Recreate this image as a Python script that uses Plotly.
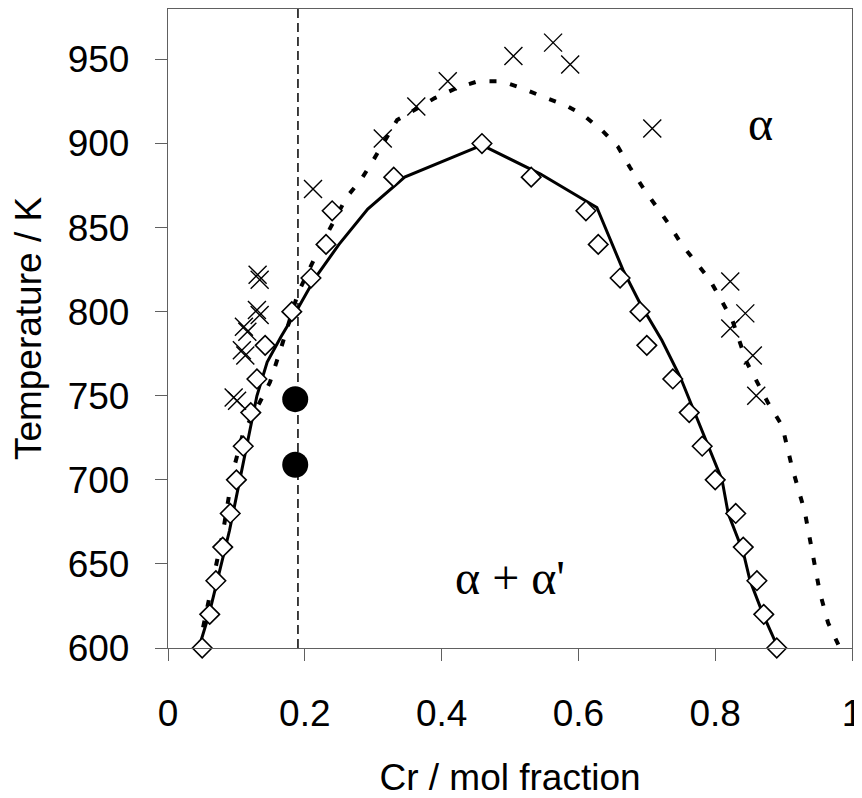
import plotly.graph_objects as go

# Measured boundary (open diamonds)
meas_x = [0.050, 0.061, 0.070, 0.080, 0.091, 0.100, 0.110, 0.121, 0.130, 0.142,
          0.181, 0.209, 0.231, 0.240, 0.330, 0.459, 0.531, 0.611, 0.629, 0.661,
          0.690, 0.700, 0.738, 0.762, 0.781, 0.800, 0.830, 0.841, 0.861, 0.871, 0.890]
meas_T = [600, 620, 640, 660, 680, 700, 720, 740, 760, 780,
          800, 820, 840, 860, 880, 900, 880, 860, 840, 820,
          800, 780, 760, 740, 720, 700, 680, 660, 640, 620, 600]

# Calculated boundary (solid line)
calc_x = [0.045, 0.060, 0.075, 0.090, 0.100, 0.110, 0.120, 0.130, 0.145, 0.165,
          0.190, 0.215, 0.250, 0.292, 0.346, 0.459, 0.544, 0.627, 0.665, 0.690,
          0.722, 0.749, 0.768, 0.792, 0.810, 0.819, 0.841, 0.851, 0.870, 0.892]
calc_T = [600, 620, 645, 670, 690, 710, 730, 750, 770, 785,
          802, 820, 840, 861, 880, 899, 882, 862, 825, 805,
          783, 761, 742, 718, 700, 680, 657, 640, 620, 600]

# Second calculated boundary (dotted line)
dot_x = [0.045, 0.060, 0.080, 0.095, 0.110, 0.134, 0.149, 0.165, 0.190, 0.218,
         0.234, 0.261, 0.283, 0.300, 0.335, 0.390, 0.422, 0.453, 0.488, 0.517,
         0.547, 0.580, 0.607, 0.634, 0.658, 0.675, 0.694, 0.715, 0.734, 0.751,
         0.773, 0.792, 0.810, 0.825, 0.846, 0.877, 0.898, 0.912, 0.931, 0.943,
         0.953, 0.965, 0.980]
dot_T = [600, 628, 668, 705, 728, 746, 758, 778, 811, 835,
         847, 868, 879, 890, 914, 927, 933, 937, 937, 933,
         928, 923, 917, 908, 898, 886, 874, 862, 851, 840,
         829, 819, 806, 795, 770, 746, 732, 708, 681, 654,
         633, 615, 602]

# Other experimental points (crosses)
exp_x = [0.131, 0.134, 0.130, 0.134, 0.111, 0.116, 0.108, 0.113, 0.096, 0.101,
         0.212, 0.314, 0.363, 0.409, 0.505, 0.563, 0.588, 0.708,
         0.822, 0.844, 0.822, 0.855, 0.860]
exp_T = [822, 819, 801, 798, 791, 788, 777, 774, 749, 747,
         873, 903, 922, 937, 952, 960, 947, 909,
         818, 799, 790, 774, 750]

# Alloy (filled circles)
alloy_x = [0.186, 0.186]
alloy_T = [748, 709]
alloy_comp = 0.19

x_ticks = [0, 0.2, 0.4, 0.6, 0.8, 1]
x_ticktext = ["0", "0.2", "0.4", "0.6", "0.8", "1"]

fig = go.Figure()

fig.add_trace(go.Scatter(x=[alloy_comp, alloy_comp], y=[600, 980], mode="lines",
                         line=dict(color="black", width=1.5, dash="9px,5px"),
                         showlegend=False))
fig.add_trace(go.Scatter(x=dot_x, y=dot_T, mode="lines",
                         line=dict(color="black", width=4, dash="7px,14px"),
                         showlegend=False))
fig.add_trace(go.Scatter(x=calc_x, y=calc_T, mode="lines",
                         line=dict(color="black", width=3),
                         showlegend=False))
fig.add_trace(go.Scatter(x=meas_x, y=meas_T, mode="markers",
                         marker=dict(symbol="diamond", size=15, color="white",
                                     line=dict(color="black", width=1.6)),
                         cliponaxis=False, showlegend=False))
fig.add_trace(go.Scatter(x=exp_x, y=exp_T, mode="markers",
                         marker=dict(symbol="x-thin-open", size=18, color="black",
                                     line=dict(color="black", width=1.4)),
                         cliponaxis=False, showlegend=False))
fig.add_trace(go.Scatter(x=alloy_x, y=alloy_T, mode="markers",
                         marker=dict(symbol="circle", size=26, color="black"),
                         showlegend=False))

fig.add_annotation(x=0.866, y=912, text="α", showarrow=False,
                   font=dict(family="Liberation Serif", size=48, color="black"))
fig.add_annotation(x=0.5, y=642, text="α + α'", showarrow=False,
                   font=dict(family="Liberation Serif", size=48, color="black"))

axis_font = dict(family="Liberation Sans, Arial", size=37, color="black")

fig.update_xaxes(range=[0, 1], tickvals=x_ticks, ticktext=x_ticktext,
                 showgrid=False, zeroline=False,
                 showline=True, linecolor="#606060", linewidth=1.3, mirror=True,
                 ticks="outside", ticklen=12, tickcolor="#606060", tickwidth=1.3,
                 tickfont=axis_font, ticklabelstandoff=20, ticklabeloverflow="allow",
                 title=dict(text="Cr / mol fraction", font=axis_font, standoff=38))
fig.update_yaxes(range=[600, 980], dtick=50, tick0=600,
                 showgrid=False, zeroline=False,
                 showline=True, linecolor="#606060", linewidth=1.3, mirror=True,
                 ticks="outside", ticklen=12, tickcolor="#606060", tickwidth=1.3,
                 tickfont=axis_font, ticklabelstandoff=18,
                 title=dict(text="Temperature / K", font=axis_font, standoff=24))

# page adds an 8px body offset, so the figure is shrunk to fit the window
fig.update_layout(width=854, height=790,
                  margin=dict(l=160, r=10, t=1, b=150),
                  plot_bgcolor="white", paper_bgcolor="white")

fig.write_html("out.html")
